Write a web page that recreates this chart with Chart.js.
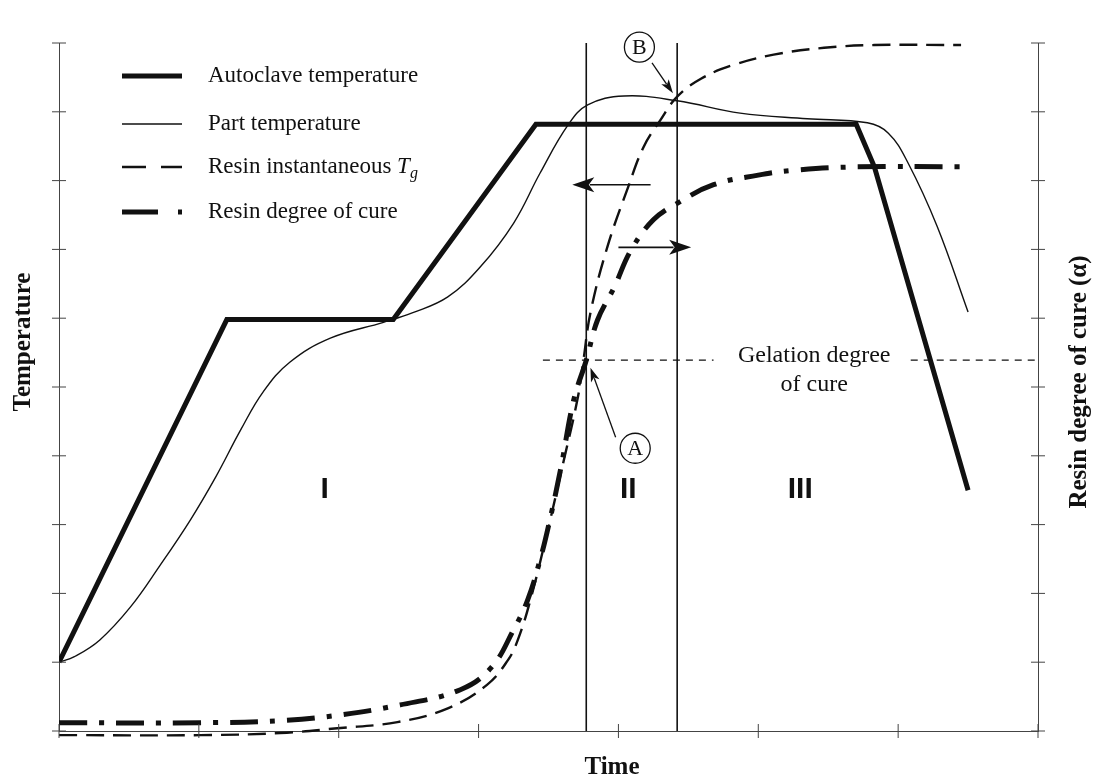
<!DOCTYPE html>
<html>
<head>
<meta charset="utf-8">
<script src="https://cdn.jsdelivr.net/npm/chart.js@4.4.0/dist/chart.umd.min.js"></script>
<style>
  html, body { margin: 0; padding: 0; background: #fff; }
</style>
</head>
<body>
<canvas id="cureChart" width="1100" height="783"></canvas>
<script>
// values in axis-tick units (time: 0..7, temperature / cure: 0..10)
const xTicks = [0, 1, 2, 3, 4, 5, 6, 7];
const yTicks = [0, 1, 2, 3, 4, 5, 6, 7, 8, 9, 10];

const autoclaveTime = [0, 1.20, 2.39, 3.41, 5.70, 5.83, 6.50];
const autoclaveTemp = [1.0, 5.98, 5.98, 8.82, 8.82, 8.20, 3.50];

const partTime = [0, 0.11, 0.29, 0.51, 0.72, 0.94, 1.12, 1.30, 1.46, 1.65, 1.94, 2.32, 2.53, 2.78, 3.01, 3.25, 3.44, 3.64, 3.78, 4.04, 4.42, 4.87, 5.35, 5.78, 5.93, 6.07, 6.28, 6.50];
const partTemp = [1.0, 1.08, 1.32, 1.80, 2.40, 3.07, 3.69, 4.38, 4.93, 5.36, 5.71, 5.94, 6.08, 6.31, 6.74, 7.38, 8.11, 8.81, 9.10, 9.23, 9.16, 8.98, 8.90, 8.84, 8.69, 8.26, 7.33, 6.09];

const tgTime = [0, 1.01, 1.58, 1.99, 2.42, 2.78, 3.06, 3.21, 3.28, 3.37, 3.49, 3.61, 3.71, 3.75, 3.80, 3.92, 4.07, 4.18, 4.30, 4.42, 4.59, 4.82, 5.11, 5.47, 5.83, 6.45];
const tgValue = [-0.06, -0.06, -0.03, 0.04, 0.13, 0.33, 0.67, 1.03, 1.32, 1.90, 2.88, 3.94, 4.85, 5.39, 6.08, 7.03, 7.91, 8.49, 8.88, 9.22, 9.48, 9.68, 9.83, 9.93, 9.97, 9.97];

const cureTime = [0, 1.01, 1.58, 1.96, 2.44, 2.87, 3.09, 3.25, 3.35, 3.44, 3.51, 3.59, 3.68, 3.77, 3.85, 3.97, 4.09, 4.25, 4.42, 4.68, 5.00, 5.25, 5.71, 6.45];
const cureValue = [0.12, 0.12, 0.15, 0.22, 0.38, 0.60, 0.92, 1.47, 1.90, 2.49, 3.07, 3.84, 4.81, 5.39, 5.97, 6.45, 6.99, 7.43, 7.67, 7.94, 8.08, 8.15, 8.20, 8.20];

const phaseBounds = [3.77, 4.42];
const gelationCure = 5.39;
const gelationSpans = [[3.46, 4.68], [6.09, 7.0]];

const seriesNames = ['Autoclave temperature', 'Part temperature', 'Resin instantaneous T_g', 'Resin degree of cure'];
const regionLabels = ['I', 'II', 'III'];

const pts = (xs, ys) => xs.map((x, i) => ({ x: x, y: ys[i] }));

const datasets = [
  { label: seriesNames[0], data: pts(autoclaveTime, autoclaveTemp), borderColor: '#111', borderWidth: 5, tension: 0, borderJoinStyle: 'miter' },
  { label: seriesNames[1], data: pts(partTime, partTemp), borderColor: '#111', borderWidth: 1.4, tension: 0.4 },
  { label: seriesNames[2], data: pts(tgTime, tgValue), borderColor: '#111', borderWidth: 2.4, borderDash: [18, 9], tension: 0.4, clip: false },
  { label: seriesNames[3], data: pts(cureTime, cureValue), borderColor: '#111', borderWidth: 5, borderDash: [28, 12, 5, 12], tension: 0.4, clip: false }
];
phaseBounds.forEach(t => {
  datasets.push({ label: 'bound', data: [{ x: t, y: 0 }, { x: t, y: 10 }], borderColor: '#111', borderWidth: 1.6 });
});
gelationSpans.forEach(s => {
  datasets.push({ label: 'gel', data: [{ x: s[0], y: gelationCure }, { x: s[1], y: gelationCure }], borderColor: '#111', borderWidth: 1.2, borderDash: [7, 6] });
});

const serif = '"Liberation Serif", "Times New Roman", serif';

function arrow(ctx, x1, y1, x2, y2, head, half) {
  const a = Math.atan2(y2 - y1, x2 - x1);
  ctx.beginPath();
  ctx.moveTo(x1, y1);
  ctx.lineTo(x2 - Math.cos(a) * head * 0.8, y2 - Math.sin(a) * head * 0.8);
  ctx.stroke();
  ctx.beginPath();
  ctx.moveTo(x2, y2);
  ctx.lineTo(x2 - Math.cos(a) * head + Math.sin(a) * half, y2 - Math.sin(a) * head - Math.cos(a) * half);
  ctx.lineTo(x2 - Math.cos(a) * head * 0.75, y2 - Math.sin(a) * head * 0.75);
  ctx.lineTo(x2 - Math.cos(a) * head - Math.sin(a) * half, y2 - Math.sin(a) * head + Math.cos(a) * half);
  ctx.closePath();
  ctx.fill();
}

const decor = {
  id: 'decor',
  afterDraw(chart) {
    const ctx = chart.ctx;
    const area = chart.chartArea;
    const px = v => chart.scales.x.getPixelForValue(v);
    const py = v => chart.scales.y.getPixelForValue(v);
    ctx.save();

    // crossing tick marks
    ctx.strokeStyle = '#444';
    ctx.lineWidth = 1;
    ctx.setLineDash([]);
    ctx.beginPath();
    yTicks.forEach(v => {
      const y = py(v);
      ctx.moveTo(area.left - 7, y); ctx.lineTo(area.left + 7, y);
      ctx.moveTo(area.right - 7, y); ctx.lineTo(area.right + 7, y);
    });
    xTicks.forEach(v => {
      const x = px(v);
      ctx.moveTo(x, area.bottom - 7); ctx.lineTo(x, area.bottom + 7);
    });
    ctx.stroke();

    // axis titles
    ctx.fillStyle = '#111';
    ctx.font = 'bold 25px ' + serif;
    ctx.textAlign = 'center';
    ctx.textBaseline = 'middle';
    ctx.fillText('Time', 612, 768);
    ctx.save();
    ctx.translate(24, 342);
    ctx.rotate(-Math.PI / 2);
    ctx.fillText('Temperature', 0, 0);
    ctx.restore();
    ctx.save();
    ctx.translate(1080, 382);
    ctx.rotate(-Math.PI / 2);
    ctx.fillText('Resin degree of cure (\u03b1)', 0, 0);
    ctx.restore();

    // legend
    const rows = [76, 124, 167, 212];
    const dashes = [[], [], [24, 15], [36, 20, 4, 30]];
    const widths = [5, 1.4, 2.4, 5];
    ctx.strokeStyle = '#111';
    rows.forEach((y, i) => {
      ctx.lineWidth = widths[i];
      ctx.setLineDash(dashes[i]);
      ctx.beginPath();
      ctx.moveTo(122, y); ctx.lineTo(182, y);
      ctx.stroke();
    });
    ctx.setLineDash([]);
    ctx.textAlign = 'left';
    ctx.font = '23px ' + serif;
    ctx.fillText(seriesNames[0], 208, rows[0]);
    ctx.fillText(seriesNames[1], 208, rows[1]);
    const tgText = 'Resin instantaneous ';
    ctx.fillText(tgText, 208, rows[2]);
    let tx = 208 + ctx.measureText(tgText).width;
    ctx.font = 'italic 23px ' + serif;
    ctx.fillText('T', tx, rows[2]);
    tx += ctx.measureText('T').width;
    ctx.font = 'italic 16px ' + serif;
    ctx.fillText('g', tx, rows[2] + 7);
    ctx.font = '23px ' + serif;
    ctx.fillText(seriesNames[3], 208, rows[3]);

    // gelation label
    ctx.textAlign = 'center';
    ctx.font = '24px ' + serif;
    ctx.fillText('Gelation degree', px(5.40), py(5.45));
    ctx.fillText('of cure', px(5.40), py(5.03));

    // region labels
    ctx.font = 'bold 30px "Liberation Sans", Arial, sans-serif';
    const regionX = [1.90, 4.07, 5.30];
    regionLabels.forEach((t, i) => ctx.fillText(t, px(regionX[i]), py(3.50)));

    // phase arrows
    ctx.lineWidth = 1.6;
    arrow(ctx, px(4.23), py(7.94), px(3.67), py(7.94), 22, 7.5);
    arrow(ctx, px(4.00), py(7.03), px(4.52), py(7.03), 22, 7.5);

    // circled markers
    ctx.lineWidth = 1.3;
    arrow(ctx, px(3.98), py(4.27), px(3.80), py(5.28), 14, 4.5);
    arrow(ctx, px(4.24), py(9.71), px(4.39), py(9.27), 14, 4.5);
    ctx.font = '22px ' + serif;
    [['A', 4.12, 4.11], ['B', 4.15, 9.94]].forEach(m => {
      ctx.beginPath();
      ctx.arc(px(m[1]), py(m[2]), 15, 0, Math.PI * 2);
      ctx.stroke();
      ctx.fillText(m[0], px(m[1]), py(m[2]) + 1);
    });

    ctx.restore();
  }
};

const hiddenAxis = (pos) => ({
  type: 'linear',
  position: pos,
  min: 0,
  max: 10,
  grid: { display: false, drawTicks: false },
  ticks: { display: false, stepSize: 1 },
  border: { display: true, color: '#444', width: 1 }
});

new Chart(document.getElementById('cureChart'), {
  type: 'line',
  data: { datasets: datasets },
  options: {
    responsive: false,
    animation: false,
    layout: { padding: { left: 59, right: 62, top: 43, bottom: 52 } },
    elements: { point: { radius: 0 }, line: { fill: false } },
    plugins: { legend: { display: false }, tooltip: { enabled: false } },
    scales: {
      x: {
        type: 'linear',
        min: 0,
        max: 7,
        grid: { display: false, drawTicks: false },
        ticks: { display: false, stepSize: 1 },
        border: { display: true, color: '#444', width: 1 }
      },
      y: hiddenAxis('left'),
      y2: hiddenAxis('right')
    }
  },
  plugins: [decor]
});
</script>
</body>
</html>
